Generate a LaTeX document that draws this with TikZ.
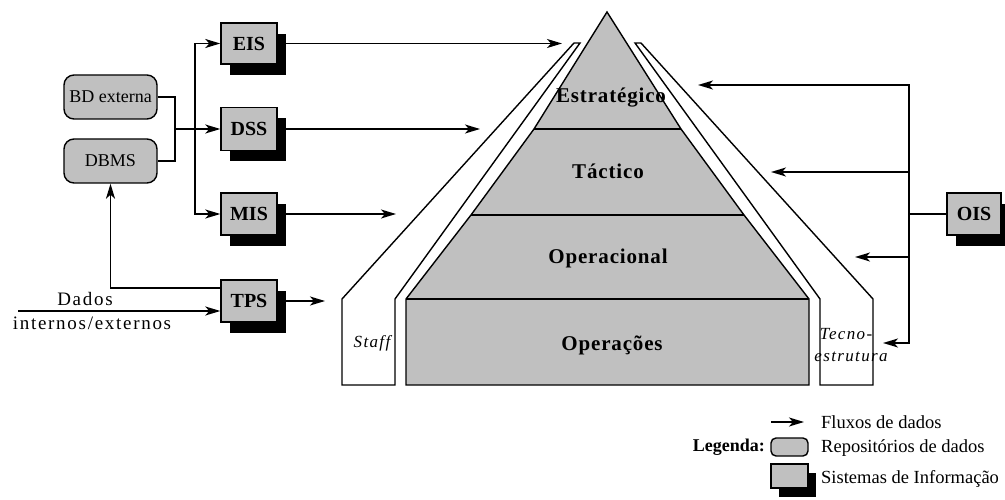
\documentclass[tikz,border=0pt]{standalone}
\usepackage{fontspec}
\setmainfont{Liberation Serif}
\newfontfamily\lsfont[LetterSpace=4]{Liberation Serif}
\newfontfamily\wsfont[LetterSpace=9]{Liberation Serif}
\newfontfamily\itfont[LetterSpace=8]{Liberation Serif}
\usetikzlibrary{arrows.meta,shadows}
\definecolor{boxgray}{RGB}{192,192,192}
\tikzset{
  flow/.style={line width=1.6pt,-{Stealth[length=15pt,width=9pt,inset=4pt]}},
  wire/.style={line width=1.6pt},
  sysbox/.style={draw,line width=1.4pt,fill=boxgray,minimum width=56pt,minimum height=42pt,
    inner sep=0pt,font=\fontsize{20}{22}\selectfont\bfseries,
    drop shadow={shadow xshift=9pt,shadow yshift=-11pt,fill=black,opacity=1}},
  repobox/.style={draw,line width=1.4pt,fill=boxgray,rounded corners=10pt,minimum width=93pt,
    minimum height=44pt,inner sep=0pt,font=\fontsize{18}{20}\selectfont},
  level/.style={inner sep=0pt,font=\fontsize{21}{23}\selectfont\lsfont\bfseries},
  side/.style={inner sep=0pt,font=\fontsize{17}{19}\selectfont\itfont\itshape},
  legtext/.style={inner sep=0pt,anchor=west,font=\fontsize{18.5}{20}\selectfont},
}
\begin{document}
\begin{tikzpicture}[x=1pt,y=-1pt]
\useasboundingbox (0,0) rectangle (1005,500);

% staff and technostructure bands
\draw[line width=1.4pt,fill=white] (574,43) -- (342,299) -- (342,385) -- (395,385) -- (395,299) -- (580,43) -- cycle;
\draw[line width=1.4pt,fill=white] (641,43) -- (873,299) -- (873,385) -- (820,385) -- (820,299) -- (635,43) -- cycle;

% organisational pyramid
\draw[line width=1.4pt,fill=boxgray] (607,12) -- (534,129) -- (471,215) -- (406,299) -- (406,385)
  -- (809,385) -- (809,299) -- (744,215) -- (681,129) -- cycle;
\draw[line width=1.4pt] (534,129) -- (681,129) (471,215) -- (744,215) (406,299) -- (809,299);

\node[level] (estr) at (611,98) {Estratégico};
\node[level] (tact) at (608,171) {Táctico};
\node[level] (oper) at (608,258) {Operacional};
\node[level] (ops)  at (612,345) {Operações};
\node[side] (staff) at (372,343) {Staff};
\node[side] (tecno) at (846,334) {Tecno-};
\node[side] (estrut) at (851,357) {estrutura};

% information systems
\node[sysbox,minimum height=41pt] (EIS) at (249,43.5) {EIS};
\node[sysbox,minimum height=43pt] (DSS) at (249,129) {DSS};
\node[sysbox] (MIS) at (249,214) {MIS};
\node[sysbox] (TPS) at (249,301) {TPS};
\node[sysbox,minimum width=54pt] (OIS) at (974,214) {OIS};

% data repositories
\node[repobox] (bd) at (110.5,97) {BD externa};
\node[repobox] (dbms) at (110.5,161) {DBMS};

% repositories feeding the systems
\coordinate (j) at (175,129);
\coordinate (sp) at (195,129);
\draw[wire] (bd.east) -| (j) |- (dbms.east);
\draw[flow] (j) -- (DSS.west);
\draw[flow] (sp) |- (EIS.west);
\draw[flow] (sp) |- (MIS.west);

% system outputs towards the levels
\coordinate (eisout) at (562,43.5);
\coordinate (dssout) at (480,129);
\coordinate (misout) at (396,214);
\coordinate (tpsout) at (325,301);
\draw[flow] (EIS.east) -- (eisout);
\draw[flow] (DSS.east) -- (dssout);
\draw[flow] (MIS.east) -- (misout);
\draw[flow] (TPS.east) -- (tpsout);

% transaction data
\draw[flow] ([yshift=13pt]TPS.west) -| (dbms.south);
\coordinate (din) at (18,311);
\draw[flow] (din) -- (din -| TPS.west);
\node[inner sep=0pt,font=\fontsize{19}{21}\selectfont\wsfont] (dados) at (85,299.5) {Dados};
\node[inner sep=0pt,font=\fontsize{19}{21}\selectfont\wsfont] (intext) at (92,323) {internos/externos};

% office information systems
\coordinate (bus) at (909,214);
\coordinate (t1) at (698,85);
\coordinate (t2) at (771,172);
\coordinate (t3) at (855,257);
\coordinate (t4) at (883,343);
\draw[wire] (OIS.west) -- (bus);
\draw[flow] (bus) |- (t1);
\draw[flow] (bus) |- (t4);
\draw[flow] (t2 -| bus) -- (t2);
\draw[flow] (t3 -| bus) -- (t3);

% legend
\coordinate (la) at (771,422);
\coordinate (lb) at (804,422);
\draw[flow] (la) -- (lb);
\node[draw,line width=1.4pt,fill=boxgray,rounded corners=5pt,minimum width=37pt,minimum height=18pt,inner sep=0pt] (legrepo) at (789.5,447) {};
\fill[black] (779,473) rectangle (816,497);
\node[draw,line width=1.4pt,fill=boxgray,minimum width=37pt,minimum height=24pt,inner sep=0pt] (legsys) at (789.5,476) {};
\node[inner sep=0pt,anchor=east,font=\fontsize{18}{20}\selectfont\bfseries] (legenda) at (765,447) {Legenda:};
\node[legtext] (lt1) at (821,422) {Fluxos de dados};
\node[legtext] (lt2) at (821,448) {Repositórios de dados};
\node[legtext] (lt3) at (821,479) {Sistemas de Informação};
\end{tikzpicture}
\end{document}
